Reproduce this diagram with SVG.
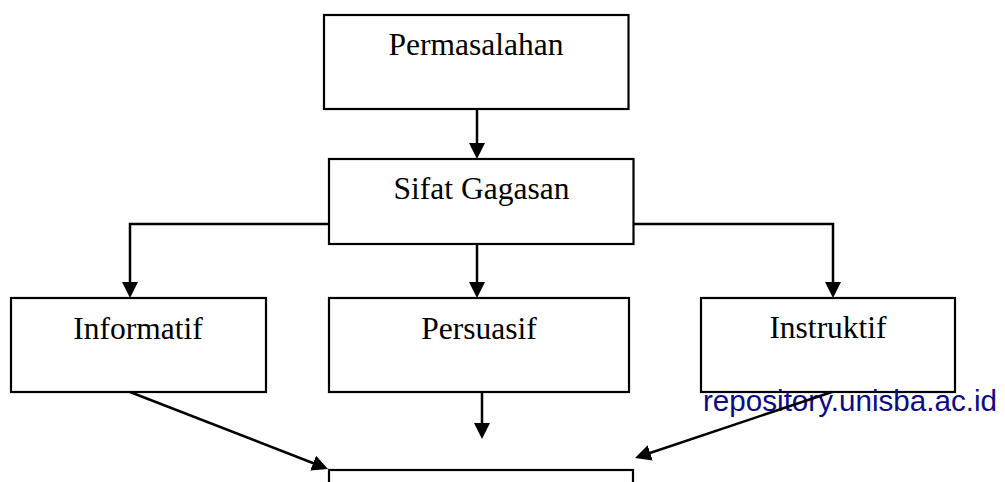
<svg xmlns="http://www.w3.org/2000/svg" width="1005" height="482" viewBox="0 0 1005 482">
<style>
.box{fill:#fff;stroke:#000;stroke-width:2.2}
.lbl{font-family:"Liberation Serif","Times New Roman",serif;font-size:31.5px;fill:#000;text-anchor:middle}
.con{fill:none;stroke:#000;stroke-width:2.5}
.wm{font-family:"Liberation Sans",Arial,sans-serif;font-size:30px;fill:#0a0a8a}
</style>
<defs>
<marker id="ah" viewBox="0 0 16 16" refX="12" refY="8" markerWidth="16" markerHeight="16" markerUnits="userSpaceOnUse" orient="auto">
<path d="M0,0 L16,8 L0,16 z" fill="#000"/>
</marker>
</defs>
<rect width="1005" height="482" fill="#fff"/>
<g id="permasalahan"><rect class="box" x="324" y="15" width="304.5" height="94"/><text class="lbl" x="476" y="55">Permasalahan</text></g>
<g id="sifat-gagasan"><rect class="box" x="329" y="159" width="304.5" height="85"/><text class="lbl" x="481.5" y="199">Sifat Gagasan</text></g>
<g id="informatif"><rect class="box" x="11" y="298" width="255" height="94"/><text class="lbl" x="138" y="339">Informatif</text></g>
<g id="persuasif"><rect class="box" x="329" y="298" width="300" height="94"/><text class="lbl" x="479" y="339">Persuasif</text></g>
<g id="instruktif"><rect class="box" x="701" y="298" width="254" height="94"/><text class="lbl" x="828" y="338">Instruktif</text></g>
<g id="bottom"><rect class="box" x="329" y="470" width="304" height="60"/></g>
<text class="wm" x="703" y="411" textLength="294" lengthAdjust="spacingAndGlyphs">repository.unisba.ac.id</text>
<g id="connectors" class="con">
<path d="M477,109 V155" marker-end="url(#ah)"/>
<path d="M329,224 H130 V294" marker-end="url(#ah)"/>
<path d="M477,244 V294" marker-end="url(#ah)"/>
<path d="M634,224 H833 V294" marker-end="url(#ah)"/>
<path d="M482,392 V435" marker-end="url(#ah)"/>
<path d="M130,392 L324.3,467.5" marker-end="url(#ah)"/>
<path d="M832,392 L638.8,456.7" marker-end="url(#ah)"/>
</g>
</svg>
